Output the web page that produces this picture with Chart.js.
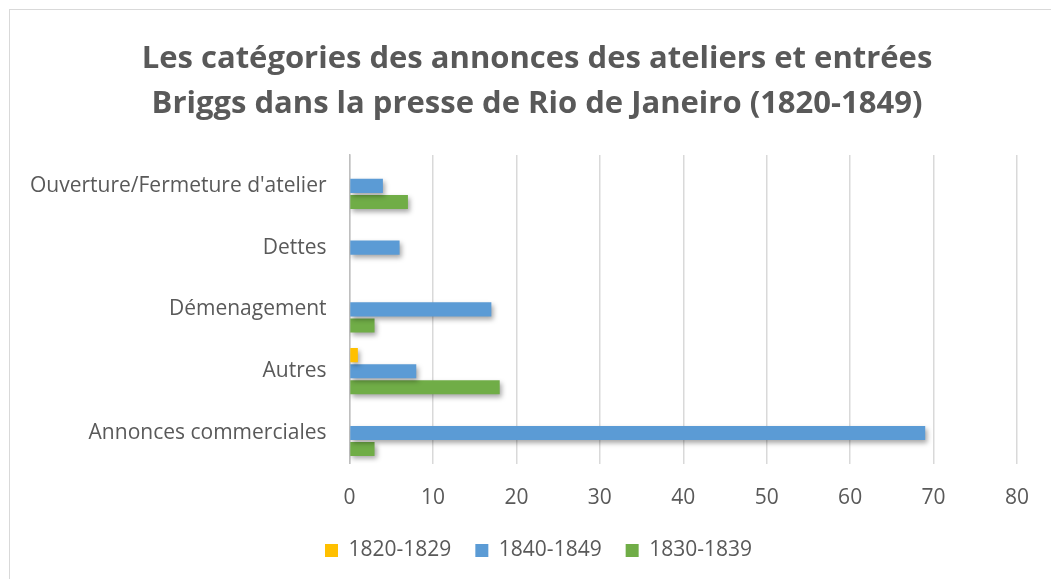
<!DOCTYPE html>
<html>
<head>
<meta charset="utf-8">
<script src="https://cdn.jsdelivr.net/npm/chart.js@4.4.1/dist/chart.umd.min.js"></script>
<style>
  html, body { margin: 0; padding: 0; background: #fff; overflow: hidden; }
  #frame { position: absolute; left: 9px; top: 9px; width: 1100px; height: 600px; border: 1.5px solid #d9d9d9; }
  #title { position: absolute; left: 0; top: 34px; width: 1074px; text-align: center;
           font: bold 31px 'Open Sans', sans-serif; line-height: 45px; color: #595959; }
  #wrap { position: absolute; left: 0; top: 0; width: 1051px; height: 579px; }
</style>
</head>
<body>
<div id="frame"></div>
<div id="wrap"><canvas id="chart"></canvas></div>
<div id="title">Les catégories des annonces des ateliers et entrées<br>Briggs dans la presse de Rio de Janeiro (1820-1849)</div>
<script>
// ============================================================
// DATA
// ============================================================
const categories = [
  "Ouverture/Fermeture d'atelier",
  'Dettes',
  'Démenagement',
  'Autres',
  'Annonces commerciales',
];
const s1820 = [0, 0, 0, 1, 0];
const s1840 = [4, 6, 17, 8, 69];
const s1830 = [7, 0, 3, 18, 3];
const seriesLabels = ['1820-1829', '1840-1849', '1830-1839'];
const seriesColors = ['#FFC000', '#5B9BD5', '#70AD47'];
const xTicksMax = 80;

const GREY = '#595959';
Chart.defaults.font.family = "'Open Sans', sans-serif";
Chart.defaults.color = GREY;

// soft drop shadow under the bars, like the Office style
const barShadow = {
  id: 'barShadow',
  beforeDatasetsDraw(chart) {
    const ctx = chart.ctx;
    ctx.save();
    ctx.shadowColor = 'rgba(0,0,0,0.35)';
    ctx.shadowBlur = 5;
    ctx.shadowOffsetX = 2;
    ctx.shadowOffsetY = 3;
  },
  afterDatasetsDraw(chart) { chart.ctx.restore(); }
};

// the legend sits centred on the whole frame, a bit right of the canvas centre
const legendShift = {
  id: 'legendShift',
  afterLayout(chart) {
    if (!chart.legend) return;
    chart.legend.left += 22;
    chart.legend.right += 22;
  }
};

const ds = (label, data, color) => ({
  label, data, backgroundColor: color, borderWidth: 0,
  categoryPercentage: 0.78, barPercentage: 0.875,
});

new Chart(document.getElementById('chart'), {
  type: 'bar',
  data: {
    labels: categories,
    datasets: [
      ds(seriesLabels[0], s1820, seriesColors[0]),
      ds(seriesLabels[1], s1840, seriesColors[1]),
      ds(seriesLabels[2], s1830, seriesColors[2]),
    ],
  },
  options: {
    indexAxis: 'y',
    responsive: true,
    maintainAspectRatio: false,
    animation: false,
    layout: { padding: { top: 155, right: 25, left: 7, bottom: 8 } },
    plugins: {
      legend: {
        position: 'bottom',
        labels: { font: { size: 21 }, color: GREY, boxWidth: 13, boxHeight: 13, padding: 24 },
      },
      tooltip: { enabled: false },
    },
    scales: {
      x: {
        min: 0, max: xTicksMax,
        ticks: { stepSize: 10, font: { size: 21 }, color: GREY, padding: 22 },
        grid: { color: '#d9d9d9', lineWidth: 1.5, drawTicks: false },
        border: { display: false },
        afterFit: s => { s.height -= 17; },
      },
      y: {
        ticks: { font: { size: 21 }, color: GREY, padding: 23 },
        grid: { display: false, drawTicks: false },
        border: { display: true, color: '#bfbfbf', width: 1.5 },
      },
    },
  },
  plugins: [barShadow, legendShift],
});
</script>
</body>
</html>
